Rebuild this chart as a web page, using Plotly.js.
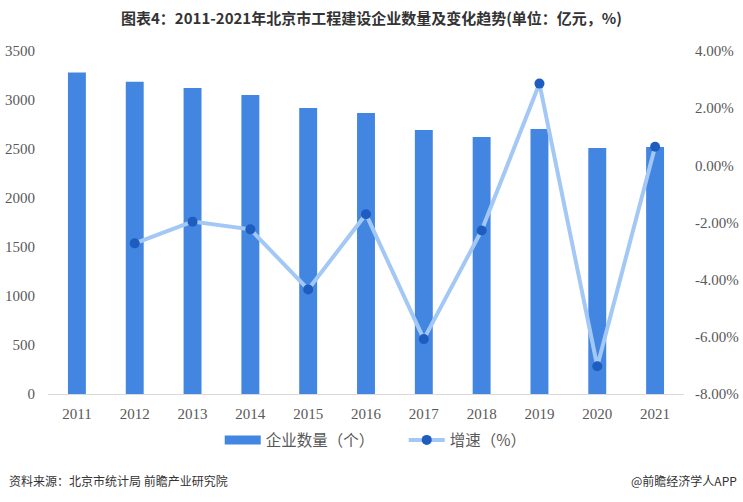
<!DOCTYPE html>
<html><head><meta charset="utf-8">
<script src="https://cdn.plot.ly/plotly-3.0.1.min.js"></script>
<style>html,body{margin:0;padding:0;background:#fff}#c{width:743px;height:502px}</style>
</head><body><div id="c"></div>
<script>
const years = ['2011','2012','2013','2014','2015','2016','2017','2018','2019','2020','2021'];
const counts = [3280,3185,3122,3051,2918,2867,2694,2622,2704,2510,2520];
const growthYears = ['2012','2013','2014','2015','2016','2017','2018','2019','2020','2021'];
const growth = [-2.73,-1.97,-2.24,-4.34,-1.71,-6.08,-2.28,2.86,-7.03,0.65];
const rightTicks = [4,2,0,-2,-4,-6,-8];
const rightTickText = rightTicks.map(v => v.toFixed(2) + '%');
const leftTicks = [0,500,1000,1500,2000,2500,3000,3500];

const barColor = '#4286E2';
const tickFont = {family:'Liberation Serif, Times New Roman, serif', size:15, color:'#595959'};
const data = [
  {type:'bar', x:years, y:counts, name:'企业数量（个）', marker:{color:barColor}, yaxis:'y', showlegend:false},
  {type:'scatter', mode:'lines', x:[null], y:[null], name:'企业数量（个）', yaxis:'y', line:{color:barColor, width:9}, showlegend:true},
  {type:'scatter', mode:'lines+markers', x:growthYears, y:growth, name:'增速（%）', yaxis:'y2',
   line:{color:'#A3C8F5', width:4}, marker:{color:'#1E5DBF', size:10}}
];
const layout = {
  width:743, height:502, margin:{l:48, r:59, t:51, b:108},
  paper_bgcolor:'#fff', plot_bgcolor:'#fff',
  bargap:0.69,
  title:{text:'<b>图表4：2011-2021年北京市工程建设企业数量及变化趋势(单位：亿元，%)</b>', x:0.5, xanchor:'center', y:0.962, yanchor:'middle',
    font:{family:'Noto Sans CJK SC, sans-serif', size:15, color:'#333'}},
  xaxis:{type:'category', range:[-0.5,10.5], showline:true, linecolor:'#d9d9d9', linewidth:1, ticks:'', tickfont:tickFont, showgrid:false, zeroline:false, ticklabelstandoff:6},
  yaxis:{range:[0,3500], tickmode:'array', tickvals:leftTicks, showgrid:false, zeroline:false, showline:false, tickfont:tickFont, ticklabelstandoff:12},
  yaxis2:{overlaying:'y', side:'right', range:[-8,4], tickmode:'array', tickvals:rightTicks, ticktext:rightTickText, showgrid:false, zeroline:false, showline:false, tickfont:tickFont, ticklabelstandoff:10},
  legend:{orientation:'h', x:0.27, xanchor:'left', y:-0.135, yanchor:'middle', font:{family:'Noto Sans CJK SC, sans-serif', size:15.5, color:'#595959'}, itemwidth:36, entrywidth:133, tracegroupgap:0},
  showlegend:true,
  annotations:[
    {text:'资料来源：北京市统计局 前瞻产业研究院', xref:'paper', yref:'paper', x:-0.065, xanchor:'left', y:-0.253, yanchor:'middle', showarrow:false,
     font:{family:'Noto Sans CJK SC, sans-serif', size:12, color:'#333'}},
    {text:'@前瞻经济学人APP', xref:'paper', yref:'paper', x:1.087, xanchor:'right', y:-0.253, yanchor:'middle', showarrow:false,
     font:{family:'Noto Sans CJK SC, sans-serif', size:12, color:'#333'}}
  ]
};
Plotly.newPlot('c', data, layout, {displayModeBar:false, staticPlot:true});
</script></body></html>
